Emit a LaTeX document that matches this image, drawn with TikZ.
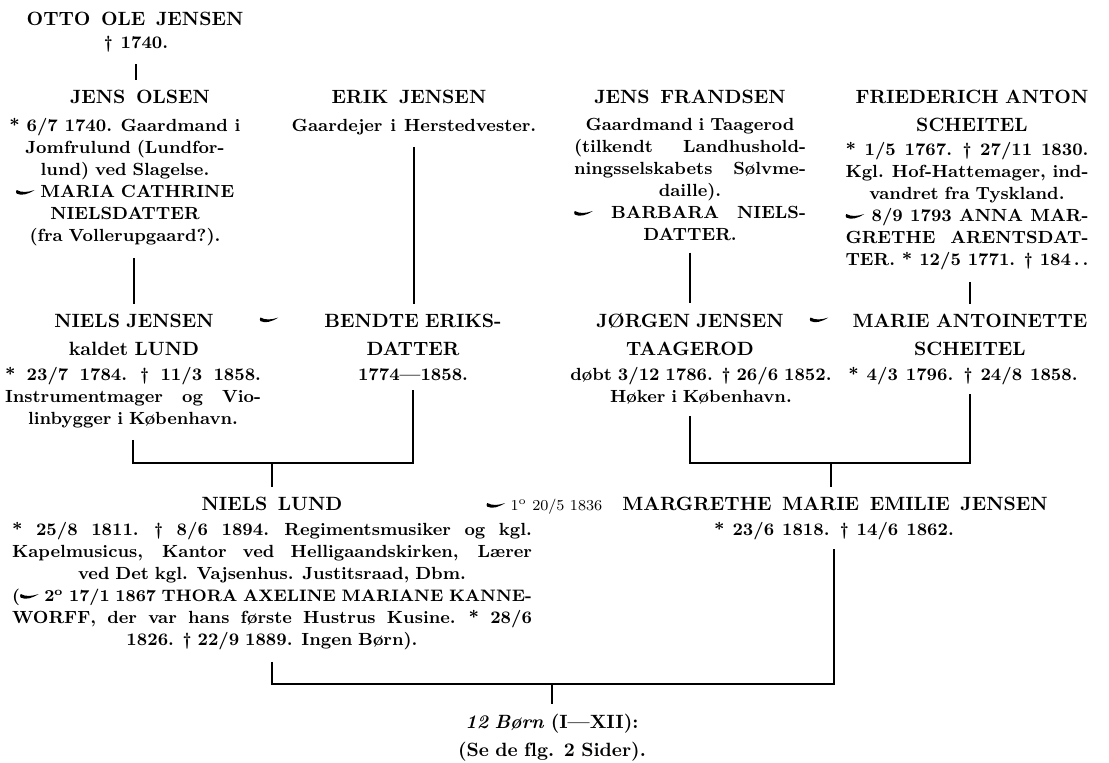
\documentclass[tikz,border=0pt]{standalone}
\usepackage{fontspec}

\newcommand{\namefont}{\fontsize{9.6}{14}\selectfont\bfseries\spaceskip=0.55em plus 0.2em minus 0.1em\relax}
\newcommand{\factfont}{\fontsize{8.8}{11}\selectfont\bfseries\spaceskip=0.45em plus 0.15em minus 0.1em\relax}
\newcommand{\jl}[1]{\leavevmode\hbox to\hsize{\spaceskip=0.3em plus 1fil minus 0.1em\xspaceskip=0.4em plus 1fil minus 0.1em\relax #1}}
\newcommand{\gift}{\tikz[x=1pt,y=1pt,baseline=0pt]\fill (0,1.7) .. controls (2.5,0.5) and (5.5,1.3) .. (9,3.5) .. controls (5.5,2.3) and (2.5,2.1) .. (0,3.5) .. controls (-0.4,2.9) and (-0.4,2.2) .. (0,1.7) -- cycle;}

\begin{document}
\begin{tikzpicture}[x=0.5pt,y=-0.5pt,
		person/.style={font=\namefont, align=center, inner sep=0pt, anchor=base},
		facts/.style={font=\factfont, align=center, inner sep=0pt, anchor=base},
		kin/.style={line width=0.9pt, shorten <=6pt, shorten >=4.5pt}]
		\useasboundingbox (0,0) rectangle (1109,762);

		% first generations
		\node[person] (otto) at (135,25) {OTTO OLE JENSEN};
		\node[facts] (ottod) at (136,48) {† 1740.};

		\node[person] (jenso) at (140,103) {JENS OLSEN};
		\node[facts, text width=115.5pt] (jensoi) at (125,131) {\jl{* 6/7 1740. Gaardmand i}\\ Jomfrulund (Lundfor-\\ lund) ved Slagelse.\\ \gift{} MARIA CATHRINE\\ NIELSDATTER\\ (fra Vollerupgaard?).};
		\node[person] (erik) at (409,103) {ERIK JENSEN};
		\node[facts] (eriki) at (414,131) {Gaardejer i Herstedvester.};
		\node[person] (jensf) at (690,103) {JENS FRANDSEN};
		\node[facts, text width=116pt] (jensfi) at (690,130) {Gaardmand i Taagerod\\ \jl{(tilkendt Landhushold-}\\ \jl{ningsselskabets Sølvme-}\\ daille).\\ \jl{\gift{} BARBARA NIELS-}\\ DATTER.};
		\node[person, text width=130pt] (fried) at (972,103) {FRIEDERICH ANTON\\ SCHEITEL};
		\node[facts, text width=121.5pt] (friedi) at (967,155) {\jl{* 1/5 1767. † 27/11 1830.}\\ \jl{Kgl. Hof-Hattemager, ind-}\\ vandret fra Tyskland.\\ \jl{\gift{} 8/9 1793 ANNA MAR-}\\ \jl{GRETHE ARENTSDAT-}\\ \jl{TER. * 12/5 1771. † 184\,.\,.}};

		% parents
		\node[person, text width=100pt] (nielsj) at (134,327) {NIELS JENSEN\\ kaldet LUND};
		\node[facts, text width=128pt] (nielsji) at (133,380) {\jl{* 23/7 1784. † 11/3 1858.}\\ \jl{Instrumentmager og Vio-}\\ linbygger i København.};
		\node (wed1) at (269,321) {\gift};
		\node[person, text width=100pt] (bendte) at (413,327) {BENDTE ERIKS-\\ DATTER};
		\node[facts] (bendtei) at (413,380) {1774—1858.};
		\node[person, text width=100pt] (jorgen) at (690,327) {JØRGEN JENSEN\\ TAAGEROD};
		\node[facts, font={\factfont\spaceskip=0.28em plus 0.1em\relax}, text width=136pt] (jorgeni) at (701,380) {døbt 3/12 1786. † 26/6 1852.\\ Høker i København.};
		\node (wed2) at (819,321) {\gift};
		\node[person, text width=130pt] (marie) at (970,327) {MARIE ANTOINETTE\\ SCHEITEL};
		\node[facts] (mariei) at (963,380) {* 4/3 1796. † 24/8 1858.};

		% the couple
		\node[person] (lund) at (272,510) {NIELS LUND};
		\node[facts, text width=260pt] (lundi) at (272,535) {\jl{* 25/8 1811. † 8/6 1894. Regimentsmusiker og kgl.}\\ \jl{Kapelmusicus, Kantor ved Helligaandskirken, Lærer}\\ ved Det kgl. Vajsenhus. Justitsraad, Dbm.\\ \jl{\fontsize{8.3}{11}\selectfont(\gift{} 2\textsuperscript{o} 17/1 1867 THORA AXELINE MARIANE KANNE-}\\ \jl{WORFF, der var hans første Hustrus Kusine. * 28/6}\\ 1826. † 22/9 1889. Ingen Børn).};
		\node[anchor=base west, inner sep=0pt, font=\fontsize{7.6}{10}\selectfont] (wed3) at (486,510) {\gift{} 1\textsuperscript{o} 20/5 1836};
		\node[person] (marg) at (835,510) {MARGRETHE MARIE EMILIE JENSEN};
		\node[facts] (margi) at (834,535) {* 23/6 1818. † 14/6 1862.};

		\node[person, text width=150pt] (kids) at (552,728) {\textit{12 Børn} (I—XII):\\ (Se de f\kern0pt lg. 2 Sider).};

		% lines of descent
		\draw[kin] (ottod.south) -- (ottod.south |- jenso.north);
		\draw[kin] (nielsj.north |- jensoi.south) -- (nielsj.north);
		\draw[kin] (eriki.south) -- (eriki.south |- bendte.north);
		\draw[kin] (jensfi.south) -- (jensfi.south |- jorgen.north);
		\draw[kin] (marie.north |- friedi.south) -- (marie.north);

		\coordinate (lundbar) at (272,463);
		\draw[kin] (nielsji.south) |- (lundbar) -| (bendtei.south);
		\draw[kin, shorten <=0pt] (lundbar) -- (lundbar |- lund.north);

		\coordinate (margbar) at (831,463);
		\draw[kin] (jorgen.south |- jorgeni.south) |- (margbar) -| (marie.south |- mariei.south);
		\draw[kin, shorten <=0pt] (margbar) -- (margbar |- marg.north);

		\coordinate (kidsbar) at (552,684);
		\draw[kin] (lundi.south) |- (kidsbar) -| (margi.south);
		\draw[kin, shorten <=0pt] (kidsbar) -- (kidsbar |- kids.north);
\end{tikzpicture}
\end{document}
